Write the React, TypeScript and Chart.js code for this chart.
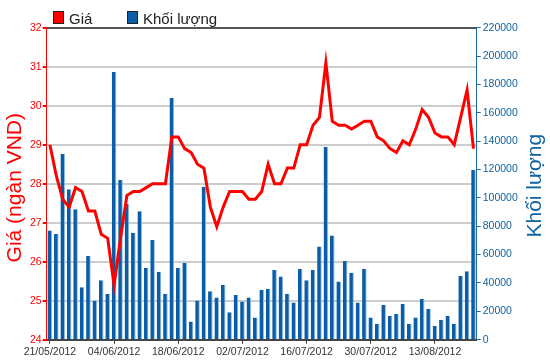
import React, { useEffect, useRef } from "react";
import { Chart, registerables } from "chart.js";

Chart.register(...registerables);

const dates: string[] = [
  "21/05/2012", "22/05/2012", "23/05/2012", "24/05/2012", "25/05/2012",
  "28/05/2012", "29/05/2012", "30/05/2012", "31/05/2012", "01/06/2012",
  "04/06/2012", "05/06/2012", "06/06/2012", "07/06/2012", "08/06/2012",
  "11/06/2012", "12/06/2012", "13/06/2012", "14/06/2012", "15/06/2012",
  "18/06/2012", "19/06/2012", "20/06/2012", "21/06/2012", "22/06/2012",
  "25/06/2012", "26/06/2012", "27/06/2012", "28/06/2012", "29/06/2012",
  "02/07/2012", "03/07/2012", "04/07/2012", "05/07/2012", "06/07/2012",
  "09/07/2012", "10/07/2012", "11/07/2012", "12/07/2012", "13/07/2012",
  "16/07/2012", "17/07/2012", "18/07/2012", "19/07/2012", "20/07/2012",
  "23/07/2012", "24/07/2012", "25/07/2012", "26/07/2012", "27/07/2012",
  "30/07/2012", "31/07/2012", "01/08/2012", "02/08/2012", "03/08/2012",
  "06/08/2012", "07/08/2012", "08/08/2012", "09/08/2012", "10/08/2012",
  "13/08/2012", "14/08/2012", "15/08/2012", "16/08/2012", "17/08/2012",
  "20/08/2012", "21/08/2012",
];

const priceValues: number[] = [
  29.0, 28.2, 27.6, 27.4, 27.9, 27.8, 27.3, 27.3, 26.7, 26.6,
  25.4, 26.6, 27.7, 27.8, 27.8, 27.9, 28.0, 28.0, 28.0, 29.2,
  29.2, 28.9, 28.8, 28.5, 28.4, 27.4, 26.9, 27.4, 27.8, 27.8,
  27.8, 27.6, 27.6, 27.8, 28.5, 28.0, 28.0, 28.4, 28.4, 29.0,
  29.0, 29.5, 29.7, 31.1, 29.6, 29.5, 29.5, 29.4, 29.5, 29.6,
  29.6, 29.2, 29.1, 28.9, 28.8, 29.1, 29.0, 29.4, 29.9, 29.7,
  29.3, 29.2, 29.2, 29.0, 29.7, 30.4, 28.9,
];

const volumeValues: number[] = [
  77000, 74500, 131000, 106000, 92000, 37000, 59000, 27500, 42000, 32400,
  188700, 112600, 95900, 75400, 90500, 50800, 70300, 47900, 32200, 170400,
  50500, 54000, 12900, 27700, 107900, 34100, 29800, 38500, 19300, 31500,
  27000, 29800, 15700, 35000, 36000, 49100, 44600, 32400, 26300, 50000,
  42000, 49100, 65800, 136000, 73500, 41100, 55500, 47200, 26300, 50000,
  15700, 11300, 24400, 16700, 18300, 25400, 11300, 15700, 28900, 21900,
  9600, 13900, 16700, 11300, 44900, 48200, 119600,
];

const labelEvery = 10;
const seriesNames = ["Giá", "Khối lượng"];
const axisTitles = ["Giá (ngàn VND)", "Khối lượng"];

const RED = "#ff0000";
const BLUE = "#0b5ea6";
const BLUE_TEXT = "#10639f";
const FONT = "'Liberation Sans', Arial, sans-serif";

const textPlugin = {
  id: "customTexts",
  afterDraw(chart: any) {
    const ctx = chart.ctx as CanvasRenderingContext2D;
    const area = chart.chartArea;
    ctx.save();
    // legend
    ctx.lineWidth = 1;
    ctx.fillStyle = RED;
    ctx.fillRect(53, 11, 10, 12);
    ctx.strokeStyle = "#222";
    ctx.strokeRect(53.5, 11.5, 10, 12);
    ctx.fillStyle = BLUE;
    ctx.fillRect(127, 11, 10, 12);
    ctx.strokeRect(127.5, 11.5, 10, 12);
    ctx.fillStyle = "#222";
    ctx.font = `15px ${FONT}`;
    ctx.textBaseline = "alphabetic";
    ctx.textAlign = "left";
    ctx.fillText(seriesNames[0], 69, 24);
    ctx.fillText(seriesNames[1], 143, 24);

    const cy = (area.top + area.bottom) / 2;
    ctx.font = `21px ${FONT}`;
    ctx.textAlign = "center";
    ctx.textBaseline = "middle";
    // left title
    ctx.save();
    ctx.translate(15, cy + 4);
    ctx.rotate(-Math.PI / 2);
    ctx.fillStyle = RED;
    ctx.fillText(axisTitles[0], 0, 0);
    ctx.restore();
    // right title
    ctx.save();
    ctx.translate(535, cy + 2);
    ctx.rotate(-Math.PI / 2);
    ctx.fillStyle = BLUE_TEXT;
    ctx.fillText(axisTitles[1], 0, 0);
    ctx.restore();
    ctx.restore();
  },
};

export default function App() {
  const canvasRef = useRef<HTMLCanvasElement | null>(null);

  useEffect(() => {
    if (!canvasRef.current) return;
    const chart = new Chart(canvasRef.current, {
      type: "bar",
      data: {
        labels: dates,
        datasets: [
          {
            type: "line",
            label: seriesNames[0],
            data: priceValues,
            yAxisID: "y",
            borderColor: RED,
            backgroundColor: RED,
            borderWidth: 3,
            pointRadius: 0,
            tension: 0,
            order: 0,
          } as any,
          {
            type: "bar",
            label: seriesNames[1],
            data: volumeValues,
            yAxisID: "y1",
            backgroundColor: BLUE,
            borderColor: "#8ebde8",
            borderWidth: { top: 0, right: 1, bottom: 0, left: 0 },
            borderSkipped: false,
            barPercentage: 0.72,
            categoryPercentage: 1.0,
            order: 1,
          } as any,
        ],
      },
      options: {
        responsive: false,
        animation: false,
        devicePixelRatio: 1,
        layout: { padding: { top: 27.7, left: 0, right: 0, bottom: 0 } },
        plugins: {
          legend: { display: false },
          tooltip: { enabled: false },
        },
        scales: {
          x: {
            type: "category",
            offset: true,
            border: { color: "#444", width: 2 },
            grid: {
              offset: false,
              drawOnChartArea: false,
              drawTicks: true,
              tickLength: 4,
              tickColor: (c: any) => (c.index % labelEvery === 0 ? "#333" : "rgba(0,0,0,0)"),
              color: "rgba(0,0,0,0)",
            },
            ticks: {
              autoSkip: false,
              maxRotation: 0,
              minRotation: 0,
              padding: 2,
              color: "#333",
              font: { family: FONT, size: 10.5 },
              callback: (_v: any, i: number) => (i % labelEvery === 0 ? dates[i] : ""),
            },
            afterFit: (s: any) => {
              s.height = 364 - 339.7;
            },
          },
          y: {
            position: "left",
            min: 24,
            max: 32,
            border: { color: RED, width: 1 },
            grid: {
              color: (c: any) => {
                const v = c.tick ? c.tick.value : 0;
                if (v === 32) return "#555";
                if (v === 24) return "rgba(0,0,0,0)";
                return "#cdcdcd";
              },
              lineWidth: 2,
              tickColor: RED,
              tickLength: 4,
            },
            ticks: {
              stepSize: 1,
              padding: 1,
              color: RED,
              font: { family: FONT, size: 10.5 },
              callback: (v: any) => String(v),
            },
            afterFit: (s: any) => {
              s.width = 46.7;
            },
          },
          y1: {
            position: "right",
            min: 0,
            max: 220000,
            border: { color: "#1a6aa6", width: 1 },
            grid: {
              drawOnChartArea: false,
              tickColor: "#1a6aa6",
              tickLength: 4,
            },
            ticks: {
              stepSize: 20000,
              padding: 2,
              color: BLUE_TEXT,
              font: { family: FONT, size: 10.5 },
              callback: (v: any) => String(v),
            },
            afterFit: (s: any) => {
              s.width = 550 - 476.7;
            },
          },
        },
      },
      plugins: [textPlugin],
    });
    return () => chart.destroy();
  }, []);

  return (
    <div style={{ position: "absolute", left: 0, top: 0, width: 550, height: 364, background: "#fff" }}>
      <canvas ref={canvasRef} width={550} height={364} style={{ display: "block" }} />
    </div>
  );
}
